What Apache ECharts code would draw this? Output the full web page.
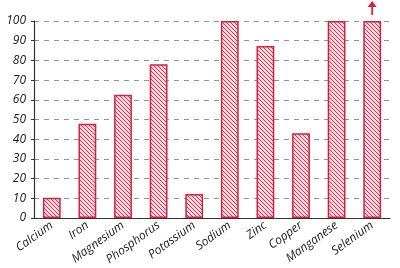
<!DOCTYPE html>
<html><head><meta charset="utf-8">
<script src="https://cdn.jsdelivr.net/npm/echarts@6/dist/echarts.min.js"></script>
<style>html,body{margin:0;padding:0;background:#fff}#c{width:400px;height:268px}</style>
</head><body><div id="c"></div>
<script>
const categories = ['Calcium','Iron','Magnesium','Phosphorus','Potassium','Sodium','Zinc','Copper','Manganese','Selenium'];
const values = [10.3, 47.8, 62.6, 78, 12.2, 100, 87.3, 43, 100, 100];
const yTicks = [0,10,20,30,40,50,60,70,80,90,100];

function hatch(){
  const c = document.createElement('canvas');
  c.width = 4; c.height = 4;
  const g = c.getContext('2d');
  g.fillStyle = '#f9d9df'; g.fillRect(0,0,4,4);
  g.strokeStyle = '#d8344e'; g.lineWidth = 1;
  g.beginPath();
  g.moveTo(-1,-1); g.lineTo(5,5);
  g.moveTo(-1,3); g.lineTo(1,5);
  g.moveTo(3,-1); g.lineTo(5,1);
  g.stroke();
  return c;
}
const chart = echarts.init(document.getElementById('c'), null, {renderer:'canvas'});
const font = "'Open Sans', sans-serif";
chart.setOption({
  animation:false,
  grid:{left:34,right:10,top:21,bottom:50},
  xAxis:{type:'category',data:categories,
    axisLine:{lineStyle:{color:'#333',width:1.2}},
    axisTick:{show:false},
    axisLabel:{rotate:36,fontSize:12,color:'#222',fontStyle:'italic',fontFamily:font,margin:6,interval:0}},
  yAxis:{type:'value',min:0,max:100,interval:10,
    axisLine:{show:true,lineStyle:{color:'#333',width:1.2}},
    axisTick:{show:true,length:3,lineStyle:{color:'#333'}},
    splitLine:{lineStyle:{color:'#777',type:[5,5],width:0.8}},
    axisLabel:{fontSize:12,color:'#222',fontStyle:'italic',fontFamily:font,margin:8,
      formatter:v=>yTicks.includes(v)?String(v):''}},
  series:[{type:'bar',data:values,barWidth:'50%',
    itemStyle:{color:{image:hatch(),repeat:'repeat'},borderColor:'#d3213f',borderWidth:1.5},
    markPoint:{silent:true,data:[{coord:['Selenium',100],symbol:'path://M5,0 L10,6 L6,6 L6,14 L4,14 L4,6 L0,6 Z',symbolSize:[9,14],symbolOffset:[0,-13],itemStyle:{color:'#d3213f'},label:{show:false}}]}
  }]
});
</script></body></html>
